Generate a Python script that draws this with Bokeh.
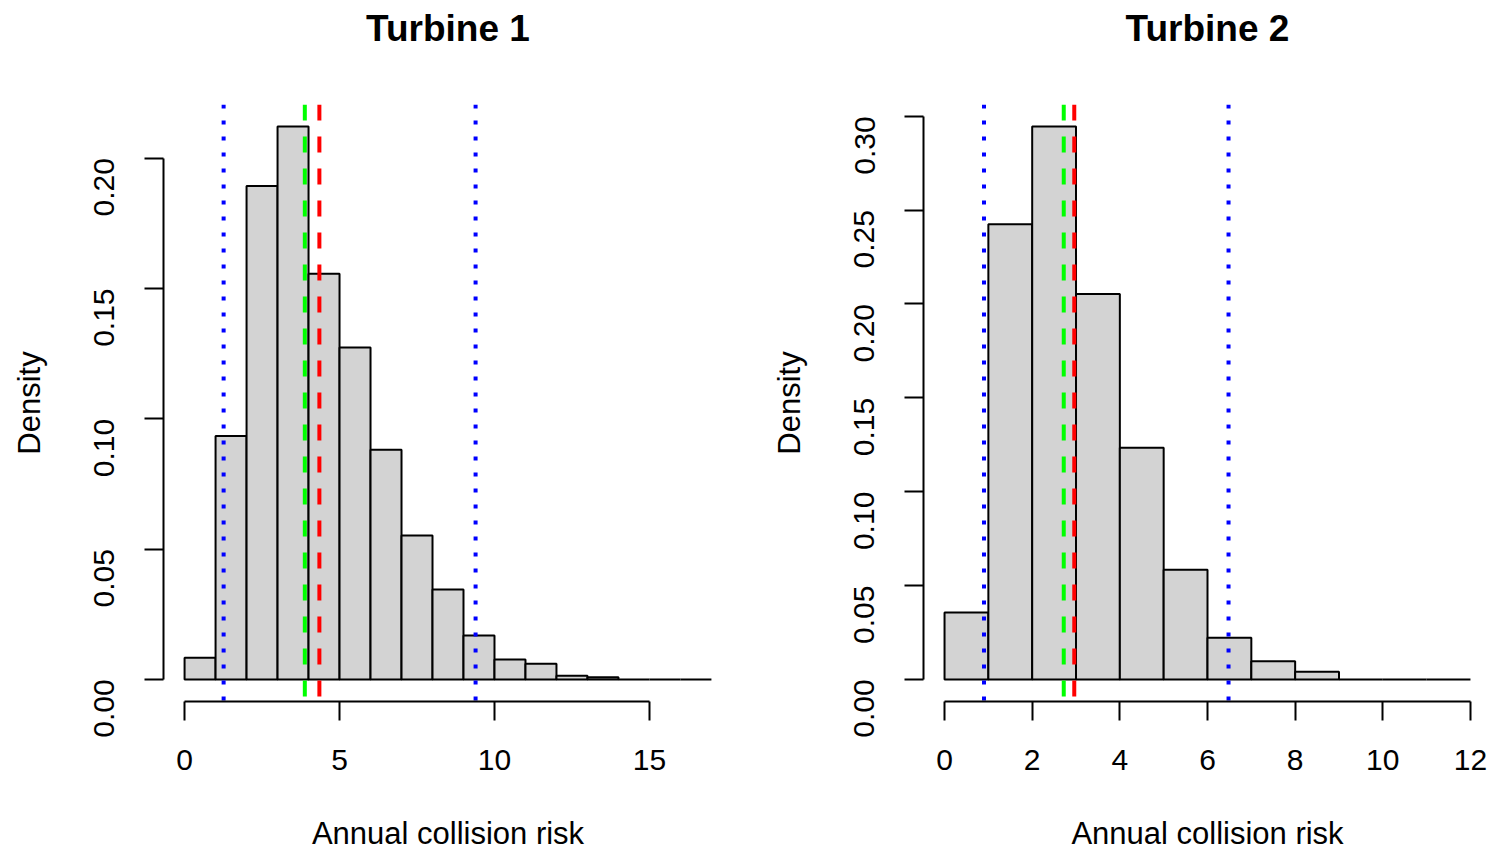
import math
from bokeh.plotting import figure
from bokeh.models import Range1d, FixedTicker, CustomJSTickFormatter
from bokeh.core.properties import value
from bokeh.layouts import row, column
from bokeh.embed import file_html
from bokeh.resources import INLINE

# ---- data ----
t1_breaks = list(range(0, 18))
t1_density = [0.0083, 0.0934, 0.1893, 0.2121, 0.1556, 0.1273, 0.0881, 0.0552,
              0.0345, 0.0168, 0.0076, 0.0060, 0.0014, 0.0008, 0.0, 0.0, 0.0]
t1_xticks = [0, 5, 10, 15]
t1_yticks = [0.00, 0.05, 0.10, 0.15, 0.20]
t1_lower, t1_median, t1_mean, t1_upper = 1.26, 3.88, 4.35, 9.39

t2_breaks = list(range(0, 13))
t2_density = [0.0357, 0.2425, 0.2945, 0.2053, 0.1234, 0.0584, 0.0222, 0.0096,
              0.0041, 0.0, 0.0, 0.0]
t2_xticks = [0, 2, 4, 6, 8, 10, 12]
t2_yticks = [0.00, 0.05, 0.10, 0.15, 0.20, 0.25, 0.30]
t2_lower, t2_median, t2_mean, t2_upper = 0.90, 2.72, 2.96, 6.48

titles = ["Turbine 1", "Turbine 2"]

FONT = "Liberation Sans"
W, H = 1495, 854
HEADER_H = 104        # space above the plot regions (holds titles)
BOTTOM = 153          # space below the plot regions
LEFT = 163
PANEL_W = [760, 735]
BORDER_R = [28, 4]
TITLE_CENTER = 28


def make_panel(breaks, dens, xticks, yticks, lines, width, border_right):
    x0, x1 = breaks[0], breaks[-1]
    dx = (x1 - x0) * 0.04
    ymax = max(dens)
    dy = ymax * 0.04
    p = figure(width=width, height=H - HEADER_H, output_backend="svg",
               toolbar_location=None, title=None,
               x_range=Range1d(x0 - dx, x1 + dx), y_range=Range1d(-dy, ymax + dy),
               min_border_left=LEFT, min_border_right=border_right,
               min_border_top=0, min_border_bottom=BOTTOM)
    p.outline_line_color = None
    p.background_fill_color = "white"
    p.border_fill_color = "white"
    p.xgrid.visible = False
    p.ygrid.visible = False

    p.quad(left=breaks[:-1], right=breaks[1:], bottom=0, top=dens,
           fill_color="#D3D3D3", line_color="black", line_width=2)

    lo, med, mean, up = lines
    for loc, col, dash in [(med, "#00FF00", "16 16"), (mean, "#FF0000", "16 16"),
                           (lo, "#0000FF", "4 12"), (up, "#0000FF", "4 12")]:
        p.segment(x0=[loc], y0=[ymax + dy], x1=[loc], y1=[-dy],
                  line_color=col, line_width=4, line_dash=dash)

    for ax in (p.xaxis[0], p.yaxis[0]):
        ax.axis_line_color = "black"
        ax.axis_line_width = 2
        ax.major_tick_line_color = "black"
        ax.major_tick_line_width = 2
        ax.major_tick_out = 19
        ax.major_tick_in = 0
        ax.minor_tick_line_color = None
        ax.major_label_text_font = FONT
        ax.major_label_text_font_size = "30px"
        ax.major_label_text_color = "black"
        ax.axis_label_text_font = FONT
        ax.axis_label_text_font_size = "31px"
        ax.axis_label_text_font_style = "normal"
        ax.axis_label_text_color = "black"

    p.xaxis.ticker = FixedTicker(ticks=xticks)
    p.xaxis.bounds = (xticks[0], xticks[-1])
    p.xaxis.axis_label = "Annual collision risk"
    p.xaxis.major_label_standoff = 29
    p.xaxis.axis_label_standoff = 43

    p.yaxis.ticker = FixedTicker(ticks=yticks)
    p.yaxis.bounds = (yticks[0], yticks[-1])
    p.yaxis.formatter = CustomJSTickFormatter(code="return tick.toFixed(2);")
    p.yaxis.major_label_orientation = math.pi / 2
    p.yaxis.axis_label = "Density"
    p.yaxis.major_label_standoff = 40
    p.yaxis.axis_label_standoff = 35
    return p


p1 = make_panel(t1_breaks, t1_density, t1_xticks, t1_yticks,
                (t1_lower, t1_median, t1_mean, t1_upper), PANEL_W[0], BORDER_R[0])
p2 = make_panel(t2_breaks, t2_density, t2_xticks, t2_yticks,
                (t2_lower, t2_median, t2_mean, t2_upper), PANEL_W[1], BORDER_R[1])

# header strip holding the two panel titles, centred over each plot region
centres = []
offset = 0
for pw, br in zip(PANEL_W, BORDER_R):
    centres.append(offset + LEFT + (pw - LEFT - br) / 2)
    offset += pw
header = figure(width=W, height=HEADER_H, output_backend="svg", toolbar_location=None,
                title=None, x_range=Range1d(0, W), y_range=Range1d(HEADER_H, 0),
                x_axis_type=None, y_axis_type=None,
                min_border_left=0, min_border_right=0, min_border_top=0,
                min_border_bottom=0)
header.outline_line_color = None
header.xgrid.visible = False
header.ygrid.visible = False
header.text(x=centres, y=[TITLE_CENTER] * len(titles), text=titles,
            text_align="center", text_baseline="middle",
            text_font=value(FONT), text_font_size="37px", text_font_style="bold",
            text_color="black")

layout = column(header, row(p1, p2, spacing=0), spacing=0)
open("out.html", "w").write(file_html(layout, INLINE))
